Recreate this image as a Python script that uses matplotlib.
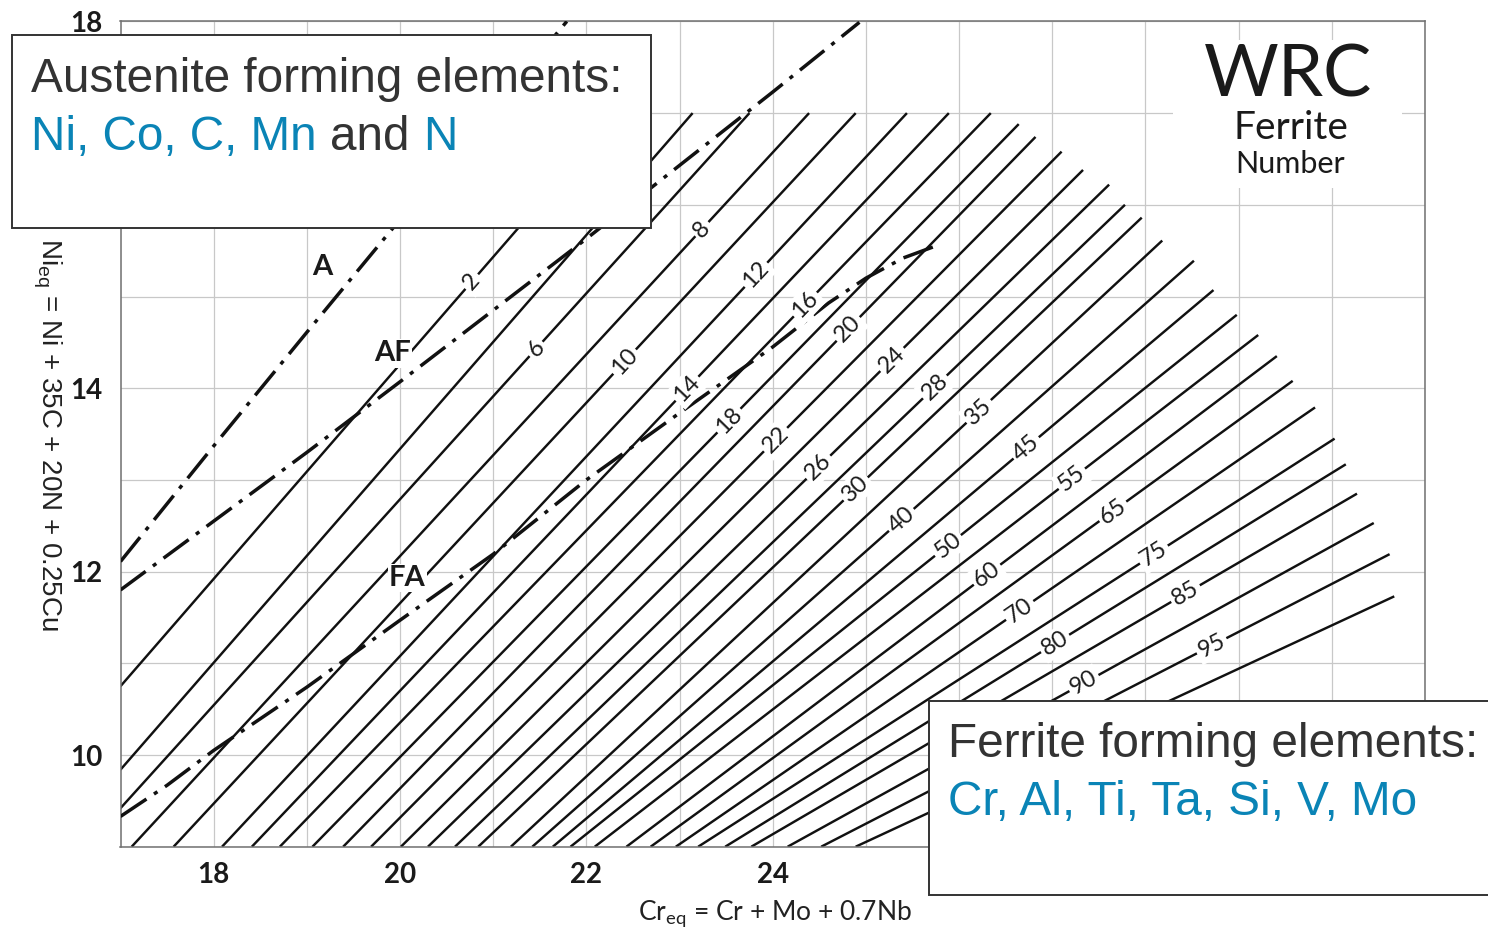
import numpy as np
import matplotlib
matplotlib.use("Agg")
import matplotlib.pyplot as plt
from matplotlib.patches import Rectangle

# --- iso-ferrite lines (WRC-1992), lower and upper end of each line ---
fn_values = [2, 4, 6, 8, 10, 12, 14, 16, 18, 20, 22, 24, 26, 28, 30,
             35, 40, 45, 50, 55, 60, 65, 70, 75, 80, 85, 90, 95, 100]
fn_start_cr = [17.0, 17.0, 17.0, 17.12, 17.57, 18.09, 18.41, 18.71, 19.06, 19.39,
               19.69, 20.01, 20.30, 20.59, 20.84, 21.19, 21.42, 21.64, 21.83, 22.09,
               22.43, 22.69, 22.96, 23.20, 23.49, 23.77, 24.16, 24.52, 24.89]
fn_start_ni = [10.75, 9.84, 9.42] + [9.0] * 26
fn_end_cr = [22.34, 23.14, 23.75, 24.39, 24.89, 25.44, 25.89, 26.34, 26.64, 26.82,
             27.10, 27.33, 27.61, 27.78, 27.96, 28.18, 28.52, 28.73, 28.98, 29.21,
             29.41, 29.58, 29.82, 30.03, 30.15, 30.27, 30.45, 30.62, 30.67]
fn_end_ni = [17.0, 17.0, 17.0, 17.0, 17.0, 17.0, 17.0, 17.0, 16.88, 16.74,
             16.58, 16.38, 16.22, 16.00, 15.86, 15.61, 15.39, 15.07, 14.80, 14.58,
             14.35, 14.08, 13.79, 13.45, 13.17, 12.85, 12.53, 12.19, 11.73]
# Cr position of the number written on each line (None = not labelled)
fn_label_cr = [20.77, None, 21.46, 23.24, 22.41, 23.82, 23.08, 24.35, 23.53, 24.81,
               24.03, 25.28, 24.49, 25.74, 24.89, 26.21, 25.38, 26.72, 25.88, 27.21,
               26.30, 27.65, 26.65, 28.09, 27.03, 28.43, 27.34, 28.71, None]

# --- phase boundaries (dash-dot) ---
a_cr = [17.0, 18.0, 19.0, 20.0, 21.0, 21.79]
a_ni = [12.11, 13.37, 14.61, 15.84, 17.04, 18.0]
af_cr = [17.0, 18.0, 19.0, 20.0, 21.0, 22.0, 23.0, 24.0, 24.93]
af_ni = [11.80, 12.55, 13.30, 14.07, 14.85, 15.63, 16.43, 17.23, 17.99]
fa_cr = [17.0, 17.5, 18.0, 19.0, 20.0, 21.0, 22.0, 23.0, 24.0, 24.6, 25.0, 25.4, 25.8]
fa_ni = [9.33, 9.67, 10.05, 10.74, 11.47, 12.19, 13.0, 13.73, 14.45, 14.93, 15.2, 15.42, 15.57]

x_ticks = [18, 20, 22, 24, 26, 28, 30]
y_ticks = [10, 12, 14, 16, 18]

W, H = 1488, 930
plt.rcParams['font.family'] = 'Lato'
fig = plt.figure(figsize=(W / 100, H / 100), dpi=100)
ax = fig.add_axes([120.5 / W, 1 - 846.7 / H, (1425 - 120.5) / W, (846.7 - 21.4) / H])
ax.set_xlim(17, 31)
ax.set_ylim(9, 18)

ax.set_xticks(x_ticks)
ax.set_yticks(y_ticks)
ax.set_xticks(np.arange(17, 32), minor=True)
ax.set_yticks(np.arange(9, 19), minor=True)
ax.tick_params(which='both', length=0)
ax.tick_params(axis='x', pad=11, labelsize=20)
ax.tick_params(axis='y', pad=13, labelsize=20)
for lab in ax.get_xticklabels() + ax.get_yticklabels():
    lab.set_fontweight('bold')
    lab.set_color('#1a1a1a')
ax.grid(which='both', color='#c8c8c8', linewidth=0.9)
for sp in ax.spines.values():
    sp.set_color('#707070')
    sp.set_linewidth(1.1)

# iso-FN lines with their numbers
for i, fn in enumerate(fn_values):
    x0, y0 = fn_start_cr[i], fn_start_ni[i]
    x1, y1 = fn_end_cr[i], fn_end_ni[i]
    ax.plot([x0, x1], [y0, y1], color='#111111', lw=1.75, solid_capstyle='butt', zorder=2)
    lx = fn_label_cr[i]
    if lx is None:
        continue
    ly = y0 + (lx - x0) * (y1 - y0) / (x1 - x0)
    p0, p1 = ax.transData.transform([(x0, y0), (x1, y1)])
    ang = np.degrees(np.arctan2(p1[1] - p0[1], p1[0] - p0[0]))
    ax.text(lx, ly, str(fn), rotation=ang, rotation_mode='anchor', ha='center', va='center',
            fontsize=17, color='#1c1c1c', zorder=4,
            bbox=dict(facecolor='white', edgecolor='none', pad=2))

dashdot = (0, (9, 2.6, 1.2, 2.6))
for bx, by in [(a_cr, a_ni), (af_cr, af_ni), (fa_cr, fa_ni)]:
    ax.plot(bx, by, color='#111111', lw=2.5, linestyle=dashdot, zorder=3)

# region names
for name, x, y in [('A', 19.17, 15.32), ('AF', 19.92, 14.38), ('FA', 20.08, 11.93)]:
    ax.text(x, y, name, ha='center', va='center', fontsize=21, fontweight='bold',
            color='#1a1a1a', zorder=5,
            bbox=dict(facecolor='white', edgecolor='none', pad=1))

# WRC title block
ax.add_patch(Rectangle((28.3, 16.18), 2.45, 1.62, facecolor='white', edgecolor='none', zorder=1.8))
ax.text(29.53, 17.41, 'WRC', ha='center', va='center', fontsize=52, color='#1a1a1a', zorder=5)
ax.text(29.56, 16.84, 'Ferrite', ha='center', va='center', fontsize=28, color='#1a1a1a', zorder=5)
ax.text(29.55, 16.44, 'Number', ha='center', va='center', fontsize=22, color='#1a1a1a', zorder=5)

# axis titles
fig.text(47 / W, 1 - 435 / H, r'Ni$_\mathregular{eq}$ = Ni + 35C + 20N + 0.25Cu',
         rotation=270, ha='center', va='center', fontsize=20,
         family='Liberation Sans', color='#222222')
fig.text(775 / W, 1 - 919 / H, r'Cr$_\mathregular{eq}$ = Cr + Mo + 0.7Nb',
         ha='center', va='baseline', fontsize=19, color='#222222')

# element boxes
dark, blue = '#333333', '#0a84b6'
box_size = 34.4
space = box_size * 0.278 * 100 / 72 / W


def colored_line(x, y, pieces):
    renderer = fig.canvas.get_renderer()
    for s, c in pieces:
        t = fig.text(x, y, s, color=c, fontsize=box_size, family='Liberation Sans',
                     va='baseline', zorder=6)
        x = t.get_window_extent(renderer).x1 / W + space


fig.add_artist(Rectangle((12 / W, 1 - 228 / H), (651 - 12) / W, (228 - 35) / H,
                         transform=fig.transFigure, facecolor='white',
                         edgecolor='#333333', lw=1.4, zorder=5))
colored_line(31 / W, 1 - 92 / H, [('Austenite forming elements:', dark)])
colored_line(31 / W, 1 - 150 / H, [('Ni, Co, C, Mn', blue), ('and', dark), ('N', blue)])

fig.add_artist(Rectangle((929 / W, 1 - 895 / H), 600 / W, (895 - 701) / H,
                         transform=fig.transFigure, facecolor='white',
                         edgecolor='#333333', lw=1.4, zorder=5))
colored_line(948 / W, 1 - 757 / H, [('Ferrite forming elements:', dark)])
colored_line(948 / W, 1 - 815 / H, [('Cr, Al, Ti, Ta, Si, V, Mo', blue)])

fig.savefig('out.png', dpi=100)
